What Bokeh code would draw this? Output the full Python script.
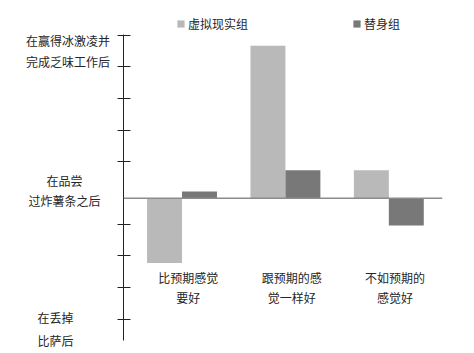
from bokeh.plotting import figure
from bokeh.layouts import row
from bokeh.models import (Range1d, Span, Legend, LegendItem, FixedTicker,
                          ColumnDataSource)
from bokeh.core.properties import value
from bokeh.embed import file_html
from bokeh.resources import INLINE

# ---- data ----
categories_line1 = ["比预期感觉", "跟预期的感", "不如预期的"]
categories_line2 = ["要好", "觉一样好", "感觉好"]
vr_group = [-2.05, 4.82, 0.88]        # 虚拟现实组
avatar_group = [0.21, 0.88, -0.86]    # 替身组
series_names = ["虚拟现实组", "替身组"]
y_tick_values = [5.15, 4.15, 3.15, 2.15, 1.15, -0.82, -1.82, -2.82, -3.82]
y_label_lines = ["在赢得冰激凌并", "完成乏味工作后",
                 "在品尝", "过炸薯条之后",
                 "在丢掉", "比萨后"]
y_label_levels = [4.97, 4.31, 0.56, -0.07, -3.77, -4.49]

FONT = "Noto Sans CJK SC"
TXT = "#262626"
LIGHT = "#b9b9b9"
DARK = "#787878"

H = 353
LW = 113          # width of the caption panel
yr = Range1d(-4.907, 6.246)

# ---- main chart ----
idx = list(range(len(categories_line1)))
src = ColumnDataSource(dict(
    x_vr=[i - 0.169 for i in idx],
    x_av=[i + 0.169 for i in idx],
    x_lab=[i + 0.06 for i in idx],
    vr=vr_group,
    av=avatar_group,
    l1=categories_line1,
    l2=categories_line2,
    y1=[-2.52] * len(idx),
    y2=[-3.15] * len(idx),
))

p = figure(width=474 - LW, height=H, output_backend="svg", toolbar_location=None,
           x_range=Range1d(-0.566, 2.519), y_range=yr,
           min_border_left=123 - LW, min_border_right=32, min_border_top=0,
           min_border_bottom=0, x_axis_location=None)
p.outline_line_color = None
p.xgrid.visible = False
p.ygrid.visible = False

ax = p.yaxis[0]
ax.ticker = FixedTicker(ticks=y_tick_values)
ax.bounds = (-4.51, 5.16)
ax.major_label_overrides = {t: "" for t in y_tick_values}
ax.major_label_standoff = 0
ax.minor_tick_line_color = None
ax.major_tick_in = 7
ax.major_tick_out = 6
ax.axis_line_color = "#222222"
ax.major_tick_line_color = "#222222"

r1 = p.vbar(x="x_vr", top="vr", bottom=0, width=0.338, source=src,
            fill_color=LIGHT, line_color=None)
r2 = p.vbar(x="x_av", top="av", bottom=0, width=0.338, source=src,
            fill_color=DARK, line_color=None)

p.add_layout(Span(location=0, dimension="width", line_color="#8c8c8c",
                  line_width=1.5))

for col, yc in (("l1", "y1"), ("l2", "y2")):
    p.text(x="x_lab", y=yc, text=col, source=src, text_align="center",
           text_baseline="middle", text_font=value(FONT),
           text_font_size="12px", text_color=TXT)

legend = Legend(items=[LegendItem(label=series_names[0], renderers=[r1]),
                       LegendItem(label=series_names[1], renderers=[r2])],
                orientation="horizontal", location=(53, 321),
                glyph_width=9, glyph_height=9, label_height=9,
                label_standoff=3, spacing=104, padding=0, margin=0,
                label_text_font=FONT, label_text_font_size="12px",
                label_text_color=TXT, background_fill_alpha=0,
                border_line_alpha=0)
p.add_layout(legend)

# ---- left panel with the y-axis level captions ----
lp = figure(width=LW, height=H, output_backend="svg", toolbar_location=None,
            x_range=Range1d(0, LW), y_range=yr,
            min_border_left=0, min_border_right=0, min_border_top=0,
            min_border_bottom=0, x_axis_location=None, y_axis_location=None)
lp.outline_line_color = None
lp.xgrid.visible = False
lp.ygrid.visible = False
lsrc = ColumnDataSource(dict(
    t=y_label_lines,
    y=y_label_levels,
    x=[67.5, 67.5, 64, 64, 55, 55],
))
lp.text(x="x", y="y", text="t", source=lsrc, text_align="center",
        text_baseline="middle", text_font=value(FONT),
        text_font_size="12px", text_color=TXT)

layout = row(lp, p, spacing=0)
open("out.html", "w").write(file_html(layout, INLINE))
